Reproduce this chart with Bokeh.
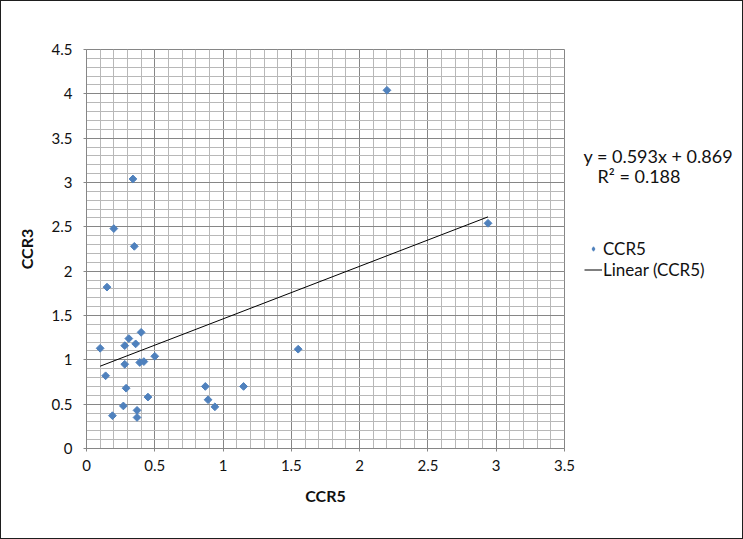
import numpy as np
from bokeh.plotting import figure
from bokeh.layouts import row
from bokeh.models import FixedTicker, Legend, LegendItem, ColumnDataSource, Range1d
from bokeh.core.properties import value
from bokeh.embed import file_html
from bokeh.resources import INLINE

# ---- data ----
ccr5 = [0.10, 0.14, 0.28, 0.31, 0.36, 0.40, 0.28, 0.39, 0.42, 0.50, 0.29, 0.45,
        0.19, 0.27, 0.37, 0.37, 0.87, 0.89, 0.94, 1.15, 1.55, 0.34, 0.20, 0.35,
        0.15, 2.20, 2.94]
ccr3 = [1.13, 0.82, 1.16, 1.24, 1.18, 1.31, 0.95, 0.97, 0.98, 1.04, 0.68, 0.58,
        0.37, 0.48, 0.43, 0.35, 0.70, 0.55, 0.47, 0.70, 1.12, 3.04, 2.48, 2.28,
        1.82, 4.04, 2.54]
slope = [0.593]
intercept = [0.869]
r_squared = [0.188]
x_ticks = [0, 0.5, 1, 1.5, 2, 2.5, 3, 3.5]
y_ticks = [0, 0.5, 1, 1.5, 2, 2.5, 3, 3.5, 4, 4.5]
series_name = "CCR5"
trend_name = "Linear (CCR5)"

FONT = "Lato"
BLUE = "#4F81BD"
TXT = "#111111"

# ---- main plot ----
p1 = figure(width=577, height=537, output_backend="svg", toolbar_location=None,
            x_range=Range1d(0, 3.5), y_range=Range1d(0, 4.5),
            min_border_left=85, min_border_right=14, min_border_top=48,
            min_border_bottom=90)
p1.outline_line_color = "#868686"

minor_x = [round(v, 1) for v in np.arange(0, 3.51, 0.1)]
minor_y = [round(v, 1) for v in np.arange(0, 4.51, 0.1)]
p1.xaxis.ticker = FixedTicker(ticks=x_ticks, minor_ticks=minor_x)
p1.yaxis.ticker = FixedTicker(ticks=y_ticks, minor_ticks=minor_y)
p1.xaxis.major_label_overrides = {t: ("%g" % t) for t in x_ticks}
p1.yaxis.major_label_overrides = {t: ("%g" % t) for t in y_ticks}

for g in (p1.xgrid[0], p1.ygrid[0]):
    g.grid_line_color = "#868686"
    g.grid_line_width = 1
    g.minor_grid_line_color = "#b8b8b8"
    g.minor_grid_line_width = 1

for ax in (p1.xaxis[0], p1.yaxis[0]):
    ax.axis_line_color = "#868686"
    ax.major_tick_line_color = "#868686"
    ax.major_tick_out = 3
    ax.major_tick_in = 0
    ax.minor_tick_line_color = None
    ax.major_label_text_font = FONT
    ax.major_label_text_font_size = "15px"
    ax.major_label_text_color = TXT
    ax.axis_label_text_font = FONT
    ax.axis_label_text_font_size = "16px"
    ax.axis_label_text_font_style = "bold"
    ax.axis_label_text_color = TXT

p1.xaxis.axis_label = "CCR5"
p1.yaxis.axis_label = "CCR3"
p1.xaxis.major_label_standoff = 7
p1.yaxis.major_label_standoff = 10
p1.xaxis.axis_label_standoff = 12
p1.yaxis.axis_label_standoff = 13

src = ColumnDataSource(dict(x=ccr5, y=ccr3))
p1.scatter("x", "y", source=src, marker="square", angle=np.pi / 4, size=5.5,
           fill_color=BLUE, line_color=BLUE)

xs = np.array([min(ccr5), max(ccr5)])
p1.line(xs, slope[0] * xs + intercept[0], line_color="black", line_width=1)

# ---- side panel: trendline equation and legend ----
# (its frame is aligned with the main plot's frame by the row layout)
p2 = figure(width=164, height=537, output_backend="svg", toolbar_location=None,
            x_range=Range1d(578, 742), y_range=Range1d(448, 49),
            x_axis_location=None, y_axis_location=None,
            min_border_left=0, min_border_right=0, min_border_top=0,
            min_border_bottom=0)
p2.grid.visible = False
p2.outline_line_color = None

eq_src = ColumnDataSource(dict(
    x=[583, 597], y=[155, 175],
    t=["y = %.3fx + %.3f" % (slope[0], intercept[0]), "R\u00b2 = %.3f" % r_squared[0]]))
p2.text("x", "y", text="t", source=eq_src, text_font=value(FONT),
        text_font_size="18px", text_color=TXT, text_baseline="middle")

# legend-only renderers (NaN data: nothing drawn in the panel itself)
leg_pts = p2.scatter(x=[np.nan], y=[np.nan], marker="diamond", size=4,
                     fill_color=BLUE, line_color=BLUE)
leg_line = p2.line(x=[np.nan, np.nan], y=[np.nan, np.nan], line_color="black",
                   line_width=1)
legend = Legend(items=[LegendItem(label=series_name, renderers=[leg_pts]),
                       LegendItem(label=trend_name, renderers=[leg_line])],
                location=(6, 168), orientation="vertical",
                border_line_color=None, background_fill_alpha=0,
                label_text_font=FONT, label_text_font_size="17px",
                label_text_color=TXT, glyph_width=18, glyph_height=11,
                label_height=18, label_standoff=1, spacing=0, padding=0, margin=0)
p2.add_layout(legend, "center")

layout = row(p1, p2)
layout.styles = {"border": "1px solid #1e1e1e", "background-color": "white"}

open("out.html", "w").write(file_html(layout, INLINE))
